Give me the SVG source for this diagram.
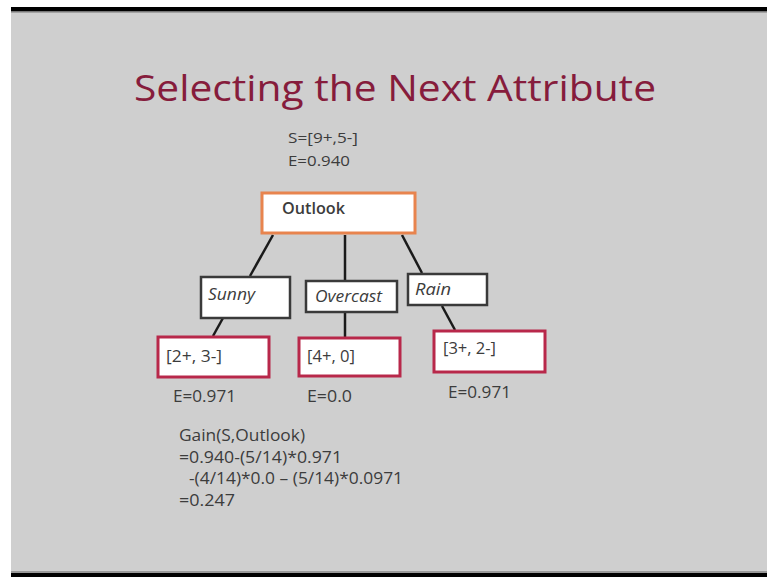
<svg xmlns="http://www.w3.org/2000/svg" width="767" height="577" viewBox="0 0 767 577">
<style>
.t{font-family:"Open Sans","Liberation Sans",sans-serif;fill:#3c3c3c;font-size:16px}
.s{font-size:15px}
.i{font-style:italic}
.gray{fill:#fff;stroke:#3a3a3a;stroke-width:2.5}
.red{fill:#fff;stroke:#b8284a;stroke-width:3}
.org{fill:#fff;stroke:#e8844e;stroke-width:3}
.c{stroke:#1a1a1a;stroke-width:2.5;fill:none}
</style>
<rect x="0" y="0" width="767" height="577" fill="#fff"/>
<rect x="11" y="7" width="756" height="570" fill="#cfcfcf"/>
<rect x="11" y="7" width="756" height="4" fill="#000"/>
<rect x="11" y="11" width="756" height="1.5" fill="#777"/>
<rect x="11" y="571" width="756" height="2" fill="#999"/>
<rect x="11" y="573" width="756" height="4" fill="#000"/>
<text x="134" y="101" font-family="Open Sans, Liberation Sans, sans-serif" font-size="37" fill="#861c3c" textLength="522" lengthAdjust="spacingAndGlyphs">Selecting the Next Attribute</text>
<g id="root-info">
<text class="t s" x="288" y="143" textLength="70" lengthAdjust="spacingAndGlyphs">S=[9+,5-]</text>
<text class="t s" x="288" y="166" textLength="62" lengthAdjust="spacingAndGlyphs">E=0.940</text>
</g>
<g id="connectors">
<line class="c" x1="273" y1="235" x2="250" y2="276"/>
<line class="c" x1="345" y1="235" x2="345" y2="280"/>
<line class="c" x1="402" y1="235" x2="422" y2="273"/>
<line class="c" x1="223" y1="318" x2="213" y2="336"/>
<line class="c" x1="345" y1="312" x2="345" y2="337"/>
<line class="c" x1="442" y1="306" x2="455" y2="330"/>
</g>
<g id="outlook">
<rect class="org" x="262" y="193" width="153" height="40"/>
<text class="t" x="282" y="214" font-weight="600" fill="#4a4a4a" textLength="63" lengthAdjust="spacingAndGlyphs">Outlook</text>
</g>
<g id="sunny">
<rect class="gray" x="201" y="277" width="89" height="41"/>
<text class="t i" x="208" y="300" textLength="47" lengthAdjust="spacingAndGlyphs">Sunny</text>
</g>
<g id="overcast">
<rect class="gray" x="306" y="281" width="91" height="31"/>
<text class="t i" x="315" y="302" textLength="67" lengthAdjust="spacingAndGlyphs">Overcast</text>
</g>
<g id="rain">
<rect class="gray" x="408" y="274" width="79" height="31"/>
<text class="t i" x="415" y="295" textLength="36" lengthAdjust="spacingAndGlyphs">Rain</text>
</g>
<g id="n23">
<rect class="red" x="158" y="337" width="111" height="40"/>
<text class="t" x="166" y="362" textLength="56" lengthAdjust="spacingAndGlyphs">[2+, 3-]</text>
</g>
<g id="n40">
<rect class="red" x="299" y="338" width="101" height="38"/>
<text class="t" x="307" y="362" textLength="48" lengthAdjust="spacingAndGlyphs">[4+, 0]</text>
</g>
<g id="n32">
<rect class="red" x="434" y="331" width="111" height="41"/>
<text class="t" x="443" y="354" textLength="53" lengthAdjust="spacingAndGlyphs">[3+, 2-]</text>
</g>
<g id="entropies">
<text class="t" x="173" y="402" textLength="63" lengthAdjust="spacingAndGlyphs">E=0.971</text>
<text class="t" x="307" y="402" textLength="45" lengthAdjust="spacingAndGlyphs">E=0.0</text>
<text class="t" x="448" y="398" textLength="63" lengthAdjust="spacingAndGlyphs">E=0.971</text>
</g>
<g id="gain">
<text class="t" x="179" y="441" textLength="126" lengthAdjust="spacingAndGlyphs">Gain(S,Outlook)</text>
<text class="t" x="179" y="463" textLength="163" lengthAdjust="spacingAndGlyphs">=0.940-(5/14)*0.971</text>
<text class="t" x="189" y="484" textLength="214" lengthAdjust="spacingAndGlyphs">-(4/14)*0.0 – (5/14)*0.0971</text>
<text class="t" x="179" y="506" textLength="56" lengthAdjust="spacingAndGlyphs">=0.247</text>
</g>
</svg>
